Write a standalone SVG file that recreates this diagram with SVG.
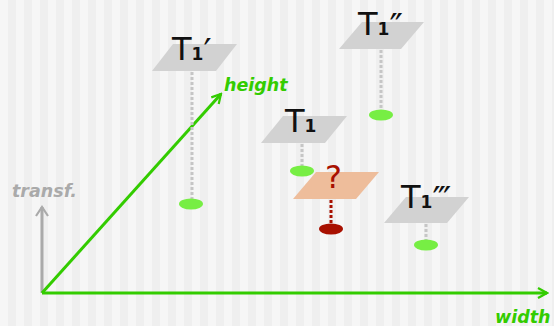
<svg xmlns="http://www.w3.org/2000/svg" width="554" height="326" viewBox="0 0 554 326">
<defs>
<pattern id="stripes" x="0" y="0" width="16" height="16" patternUnits="userSpaceOnUse">
<rect x="0" y="0" width="8" height="16" fill="#f6f6f6"/>
<rect x="8" y="0" width="8" height="16" fill="#efefef"/>
</pattern>
<marker id="gArrow" viewBox="0 0 12 12" refX="10" refY="6" markerWidth="12" markerHeight="12" markerUnits="userSpaceOnUse" orient="auto">
<path d="M1,1 L10,6 L1,11" fill="none" stroke="#33cc00" stroke-width="2.2"/>
</marker>
<marker id="grayArrow" viewBox="0 0 14 14" refX="11" refY="7" markerWidth="14" markerHeight="14" markerUnits="userSpaceOnUse" orient="auto">
<path d="M2,1 L11,7 L2,13" fill="none" stroke="#aaaaaa" stroke-width="2.2"/>
</marker>
</defs>
<style>
.plane{fill:#d2d2d2}
.qplane{fill:#eebd9b}
.stem{stroke:#c6c6c6;stroke-width:3;stroke-dasharray:3 2;fill:none}
.rstem{stroke:#a81000;stroke-width:3;stroke-dasharray:3 2;fill:none}
.pt{fill:#77ee44}
.rpt{fill:#a81000}
.lbl{font-family:"DejaVu Sans",Verdana,sans-serif;font-size:32px;fill:#111}
.sub{font-size:17px;font-weight:bold}
.prime{font-size:36px}
.ax{fill:none;stroke-width:3}
.axlbl{font-family:"DejaVu Sans",Verdana,sans-serif;font-size:17.5px;font-weight:bold;font-style:italic}
</style>
<rect width="554" height="326" fill="url(#stripes)"/>

<g id="connectors">
<line class="ax" x1="42" y1="293" x2="42" y2="207" stroke="#aaaaaa" stroke-width="2.5" marker-end="url(#grayArrow)"/>
<line class="ax" x1="42" y1="293" x2="221" y2="94" stroke="#33cc00" marker-end="url(#gArrow)"/>
<line class="ax" x1="42" y1="293" x2="547" y2="293" stroke="#33cc00" marker-end="url(#gArrow)"/>
<line class="stem" x1="192" y1="72" x2="192" y2="204"/>
<line class="stem" x1="381" y1="50" x2="381" y2="115"/>
<line class="stem" x1="302" y1="144" x2="302" y2="171"/>
<line class="stem" x1="426" y1="224" x2="426" y2="245"/>
<line class="rstem" x1="331" y1="200" x2="331" y2="229"/>
</g>

<g id="axis-labels">
<text class="axlbl" x="12" y="197" fill="#aaaaaa">transf.</text>
<text class="axlbl" x="224" y="91" fill="#33cc00">height</text>
<text class="axlbl" x="495" y="323" fill="#33cc00">width</text>
</g>

<g id="T1prime">
<polygon class="plane" points="173,44 237,44 216,71 152,71"/>
<ellipse class="pt" cx="191" cy="204" rx="12" ry="5.5"/>
<text class="lbl" x="172" y="60">T<tspan class="sub">1</tspan><tspan class="prime" dy="4">′</tspan></text>
</g>

<g id="T1dprime">
<polygon class="plane" points="362,22 424,22 401,49 339,49"/>
<ellipse class="pt" cx="381" cy="115" rx="12" ry="5.5"/>
<text class="lbl" x="358" y="35">T<tspan class="sub">1</tspan><tspan class="prime" dy="4">″</tspan></text>
</g>

<g id="T1">
<polygon class="plane" points="283,116 347,116 325,143 261,143"/>
<ellipse class="pt" cx="302" cy="171" rx="12" ry="5.5"/>
<text class="lbl" x="285" y="132">T<tspan class="sub">1</tspan></text>
</g>

<g id="T1tprime">
<polygon class="plane" points="406,197 469,197 447,223 384,223"/>
<ellipse class="pt" cx="426" cy="245" rx="12" ry="5.5"/>
<text class="lbl" x="401" y="208">T<tspan class="sub">1</tspan><tspan class="prime" dy="4">‴</tspan></text>
</g>

<g id="unknown">
<polygon class="qplane" points="316,172 379,172 356,199 293,199"/>
<ellipse class="rpt" cx="331" cy="229" rx="12" ry="5.5"/>
<text class="lbl" x="325" y="188" style="fill:#a81000">?</text>
</g>
</svg>
